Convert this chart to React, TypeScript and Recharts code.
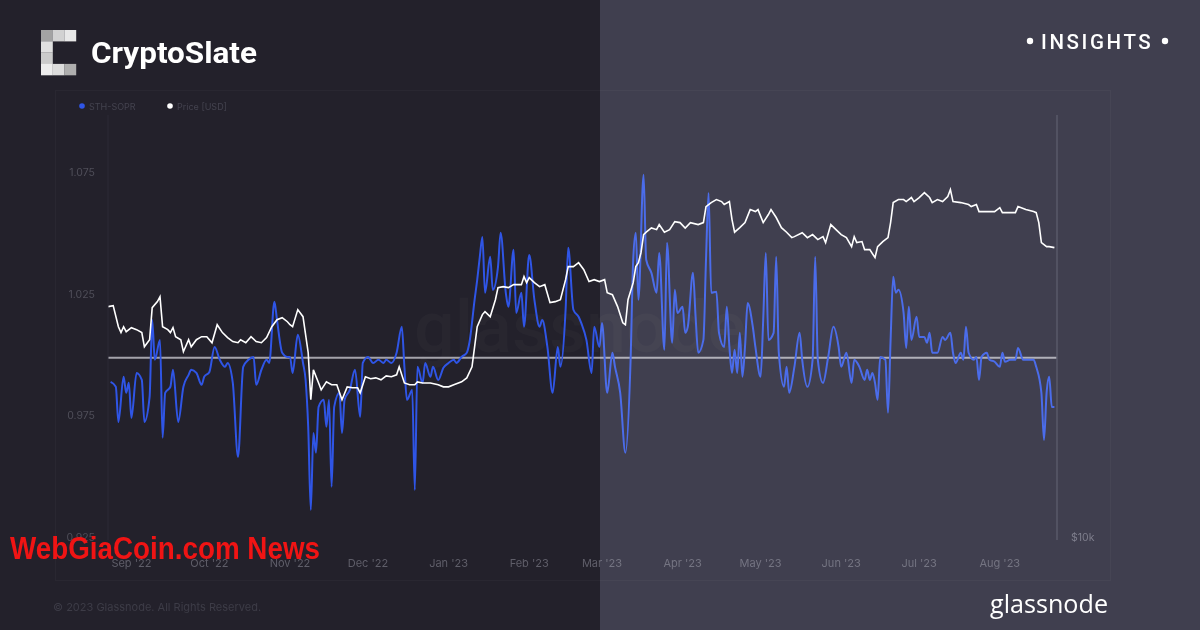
import React from 'react';
import { LineChart, Line, XAxis, YAxis, ReferenceLine } from 'recharts';

// x axis: days since 1 Sep 2022
const monthTicks = [0, 30, 61, 91, 122, 153, 181, 212, 242, 273, 303, 334];
const monthLabels = ["Sep '22", "Oct '22", "Nov '22", "Dec '22", "Jan '23", "Feb '23", "Mar '23", "Apr '23", "May '23", "Jun '23", "Jul '23", "Aug '23"];
const soprTicks = [0.925, 0.975, 1.025, 1.075];
const priceTicks = [10000];

const soprDays = [-8, -6, -5, -3, -2, -1, 0, 2, 4, 5, 7, 8, 9, 11, 12, 13, 15, 16, 18, 20, 22, 23, 25, 27, 28, 30, 32, 34, 36, 37, 39, 41, 43, 45, 47, 48, 50, 52, 53, 55, 56, 58, 60, 61, 62, 64, 66, 67, 68, 69, 70, 71, 72, 74, 75, 76, 77, 78, 80, 81, 82, 84, 86, 88, 89, 91, 93, 95, 97, 98, 100, 102, 104, 105, 106, 108, 109, 110, 112, 113, 115, 116, 118, 120, 122, 124, 125, 127, 129, 130, 132, 133, 134, 135, 136, 138, 139, 141, 142, 144, 145, 147, 148, 150, 151, 153, 155, 157, 158, 160, 162, 164, 165, 167, 168, 170, 172, 173, 175, 177, 178, 180, 181, 183, 185, 186, 188, 190, 192, 193, 194, 195, 197, 198, 200, 202, 203, 205, 206, 208, 209, 210, 212, 213, 214, 216, 217, 218, 220, 221, 222, 223, 225, 226, 228, 229, 230, 231, 232, 233, 234, 235, 236, 237, 239, 240, 242, 243, 244, 245, 247, 248, 249, 251, 252, 253, 255, 257, 258, 260, 262, 263, 264, 266, 268, 270, 272, 273, 275, 277, 278, 280, 282, 283, 284, 285, 286, 287, 288, 290, 291, 292, 293, 294, 295, 297, 298, 299, 300, 302, 303, 305, 306, 307, 308, 310, 312, 313, 315, 316, 317, 319, 320, 321, 322, 324, 325, 326, 327, 329, 330, 332, 334, 335, 336, 338, 340, 341, 343, 345, 347, 348, 350, 351, 352, 353, 354, 355];
const soprValues = [0.9901, 0.9881, 0.9736, 0.9922, 0.9856, 0.9897, 0.9753, 0.9938, 0.9909, 0.9736, 0.9839, 1.0156, 0.9992, 1.0074, 0.9671, 0.9856, 0.9881, 0.9951, 0.9736, 0.9881, 0.9930, 0.9951, 0.9938, 0.9889, 0.9922, 0.9942, 1.0045, 0.9992, 0.9963, 0.9979, 0.9897, 0.9592, 0.9963, 0.9992, 1.0004, 0.9889, 0.9951, 0.9992, 0.9979, 1.0231, 1.0156, 1.0021, 1.0004, 1.0004, 0.9938, 1.0095, 0.9979, 0.9909, 0.9716, 0.9374, 0.9691, 0.9609, 0.9798, 0.9827, 0.9716, 0.9827, 0.9469, 0.9798, 0.9856, 0.9691, 0.9827, 0.9868, 0.9951, 0.9757, 0.9979, 1.0004, 0.9979, 0.9992, 0.9979, 0.9992, 0.9979, 1.0021, 1.0128, 0.9963, 0.9827, 0.9868, 0.9456, 0.9963, 0.9897, 0.9979, 0.9922, 0.9963, 0.9909, 0.9959, 0.9979, 0.9992, 0.9979, 1.0004, 1.0021, 1.0062, 1.0239, 1.0321, 1.0416, 1.0498, 1.0268, 1.0416, 1.0280, 1.0375, 1.0515, 1.0268, 1.0210, 1.0445, 1.0185, 1.0268, 1.0128, 1.0424, 1.0239, 1.0128, 1.0156, 1.0045, 0.9856, 1.0045, 0.9963, 1.0198, 1.0453, 1.0198, 1.0169, 1.0144, 1.0074, 0.9938, 1.0128, 1.0045, 1.0144, 0.9856, 1.0021, 0.9963, 0.9856, 0.9609, 0.9992, 1.0404, 1.0515, 1.0239, 1.0754, 1.0404, 1.0350, 1.0268, 1.0432, 1.0033, 1.0474, 1.0062, 1.0280, 1.0185, 1.0210, 1.0103, 1.0128, 1.0350, 1.0169, 1.0021, 1.0074, 1.0404, 1.0679, 1.0268, 1.0272, 1.0103, 1.0045, 1.0210, 1.0045, 0.9938, 1.0033, 0.9938, 1.0103, 0.9922, 1.0045, 1.0226, 1.0128, 1.0045, 0.9922, 1.0156, 1.0432, 1.0074, 1.0103, 1.0416, 1.0021, 0.9881, 0.9963, 0.9856, 0.9963, 1.0103, 0.9992, 0.9881, 0.9992, 1.0416, 0.9992, 0.9897, 1.0004, 1.0128, 1.0045, 0.9963, 1.0021, 0.9897, 0.9992, 0.9963, 0.9909, 0.9951, 0.9909, 0.9938, 0.9897, 0.9827, 1.0004, 0.9992, 0.9774, 1.0074, 1.0334, 1.0268, 1.0280, 1.0185, 1.0041, 1.0210, 1.0074, 1.0169, 1.0086, 1.0086, 1.0062, 1.0103, 1.0021, 1.0021, 1.0086, 1.0074, 1.0103, 1.0021, 0.9979, 1.0021, 0.9992, 1.0128, 1.0021, 0.9992, 1.0004, 0.9909, 1.0004, 1.0021, 0.9992, 0.9984, 0.9963, 1.0021, 0.9984, 0.9992, 0.9992, 1.0041, 0.9992, 0.9992, 0.9992, 0.9963, 0.9856, 0.9662, 0.9856, 0.9922, 0.9798, 0.9798];

const priceDays = [-9, -7, -5, -4, -3, -2, 0, 2, 4, 5, 7, 8, 10, 11, 12, 14, 15, 16, 17, 19, 20, 22, 23, 25, 27, 29, 31, 33, 35, 37, 39, 41, 42, 44, 46, 48, 50, 52, 54, 56, 58, 60, 61, 62, 64, 66, 68, 69, 70, 72, 73, 75, 77, 79, 81, 83, 85, 87, 88, 90, 92, 94, 96, 98, 100, 102, 103, 105, 107, 109, 110, 112, 115, 118, 120, 122, 124, 127, 129, 131, 132, 133, 135, 136, 138, 140, 141, 143, 145, 147, 150, 151, 152, 153, 155, 157, 159, 161, 163, 165, 167, 168, 170, 172, 174, 176, 178, 180, 182, 183, 185, 187, 189, 190, 191, 193, 194, 195, 196, 197, 198, 200, 202, 203, 205, 207, 209, 211, 213, 215, 218, 220, 221, 223, 225, 227, 228, 230, 231, 232, 234, 236, 238, 240, 241, 243, 245, 246, 248, 250, 252, 254, 255, 258, 260, 262, 264, 266, 267, 269, 271, 273, 275, 277, 278, 279, 281, 282, 284, 286, 287, 289, 291, 292, 293, 295, 297, 298, 300, 301, 303, 305, 307, 308, 310, 312, 314, 315, 316, 319, 322, 323, 325, 326, 328, 332, 334, 335, 338, 340, 341, 344, 347, 348, 349, 350, 352, 353, 355];
const priceValues = [21410, 21480, 20050, 19670, 20050, 19730, 19990, 19860, 19670, 18780, 19220, 21340, 21760, 22110, 20050, 19860, 19670, 19990, 19410, 19220, 18480, 19220, 18780, 19220, 19410, 19410, 19030, 20180, 19670, 19350, 19100, 19030, 19220, 19030, 19410, 19100, 19030, 19350, 20050, 20510, 20650, 20380, 20180, 20050, 21200, 20720, 18420, 15800, 17420, 16690, 16320, 16750, 16590, 16590, 15800, 16480, 16430, 16430, 16160, 17030, 16920, 16970, 16860, 17080, 17030, 17140, 17590, 16690, 16590, 16590, 16750, 16690, 16690, 16590, 16480, 16480, 16590, 16750, 16970, 17590, 18780, 20050, 20860, 21060, 20720, 21900, 22780, 22850, 22780, 23000, 23000, 23610, 23150, 23530, 23150, 22850, 23000, 21690, 21760, 21900, 23380, 24390, 24390, 24710, 24150, 23230, 23380, 23230, 23380, 22410, 22260, 21410, 20310, 20180, 21900, 23150, 24390, 24710, 25530, 27080, 27290, 27670, 27520, 27980, 27290, 27520, 28250, 28160, 27670, 28160, 27980, 28160, 29670, 30060, 30360, 30160, 29870, 30160, 28440, 27290, 27700, 28160, 29380, 29190, 29380, 28160, 28910, 29380, 28630, 27700, 27290, 26810, 26900, 27250, 26810, 27080, 26640, 26900, 26380, 27980, 27520, 27080, 26810, 26040, 26900, 26380, 26470, 25780, 25780, 25120, 26040, 26470, 26810, 28160, 30060, 30360, 30360, 30160, 30560, 30160, 30560, 31060, 30560, 30060, 30360, 30160, 30660, 31370, 30160, 30060, 29870, 29670, 29870, 29190, 29190, 29190, 29570, 29090, 29090, 29090, 29670, 29380, 29190, 29090, 28160, 26380, 26040, 26040, 25950];

const soprData = soprDays.map((d, i) => ({ day: d, sopr: soprValues[i] }));
const priceData = priceDays.map((d, i) => ({ day: d, price: priceValues[i] }));

const logoBlocks = [
  { c: 0, r: 0, fill: '#a3a3a3' }, { c: 1, r: 0, fill: '#d2d2d2' }, { c: 2, r: 0, fill: '#e8e8e8' },
  { c: 0, r: 1, fill: '#e0e0e0' },
  { c: 0, r: 2, fill: '#cbcbcb' },
  { c: 0, r: 3, fill: '#ededed' }, { c: 1, r: 3, fill: '#dcdcdc' }, { c: 2, r: 3, fill: '#aeaeae' },
];

const tickFont = 'Inter, "Open Sans", sans-serif';

export default function App() {
  return (
    <div style={{ position: 'absolute', left: 0, top: 0, width: 1200, height: 630, background: '#23212b', overflow: 'hidden', fontFamily: tickFont }}>
      <div style={{ position: 'absolute', left: 55, top: 90, width: 1054, height: 489, border: '1px solid rgba(255,255,255,0.03)' }} />
      <svg width={1200} height={630} style={{ position: 'absolute', left: 0, top: 0 }}>
        <text x={580} y={352} textAnchor="middle" fontSize={72} fontFamily="Roboto, sans-serif" fontWeight={500} fill="rgba(255,255,255,0.025)">glassnode</text>
      </svg>
      <div style={{ position: 'absolute', left: 0, top: 0 }}>
        <LineChart width={1200} height={630} margin={{ top: 115, right: 0, bottom: 0, left: 0 }}>
          <XAxis
            type="number"
            dataKey="day"
            domain={[-9, 356]}
            allowDataOverflow
            ticks={monthTicks}
            interval={0}
            tickFormatter={(v: number) => monthLabels[monthTicks.indexOf(v)] ?? ''}
            height={90}
            tickSize={0}
            tickMargin={19}
            axisLine={false}
            tick={{ fill: '#5f5e69', fontSize: 11, fontFamily: tickFont }}
          />
          <YAxis
            yAxisId="sopr"
            domain={[0.925, 1.1]}
            allowDataOverflow
            ticks={soprTicks}
            interval={0}
            tickFormatter={(v: number) => v.toFixed(3)}
            width={108}
            tickSize={0}
            tickMargin={13}
            axisLine={{ stroke: '#2c2b36' }}
            tick={{ fill: '#4f4e59', fontSize: 10.5, fontFamily: tickFont, dy: -3 }}
          />
          <YAxis
            yAxisId="price"
            orientation="right"
            scale="log"
            domain={[10000, 40000]}
            allowDataOverflow
            ticks={priceTicks}
            interval={0}
            tickFormatter={() => '$10k'}
            width={143}
            tickSize={0}
            tickMargin={14}
            axisLine={{ stroke: '#3f3e4b', strokeWidth: 1.5 }}
            tick={{ fill: '#6a6975', fontSize: 10.5, fontFamily: tickFont, dy: -3 }}
          />
          <ReferenceLine yAxisId="sopr" y={1} stroke="#a4a3ab" strokeWidth={2} />
          <Line
            yAxisId="sopr"
            data={soprData}
            dataKey="sopr"
            type="monotone"
            stroke="#2f55e6"
            strokeWidth={2}
            dot={false}
            isAnimationActive={false}
          />
          <Line
            yAxisId="price"
            data={priceData}
            dataKey="price"
            type="linear"
            stroke="#ffffff"
            strokeWidth={1.6}
            dot={false}
            isAnimationActive={false}
          />
        </LineChart>
      </div>
      <svg width={1200} height={630} style={{ position: 'absolute', left: 0, top: 0 }}>
        {logoBlocks.map((b, i) => (
          <rect key={i} x={41 + b.c * 11.7} y={30 + b.r * 11.3} width={11.8} height={11.4} fill={b.fill} />
        ))}
        <text x={91} y={63} fontFamily="Roboto, sans-serif" fontWeight={700} fontSize={29} fill="#ffffff" textLength={166} lengthAdjust="spacingAndGlyphs">CryptoSlate</text>
        <circle cx={1030} cy={41} r={3.2} fill="#ffffff" />
        <text x={1041} y={48.5} fontFamily="Roboto, sans-serif" fontWeight={500} fontSize={20.5} letterSpacing={2.6} fill="#ffffff">INSIGHTS</text>
        <circle cx={1165} cy={41} r={3.2} fill="#ffffff" />
        <circle cx={82} cy={106} r={2.8} fill="#2f55e6" />
        <text x={89} y={109.5} fontSize={9} fontFamily={tickFont} fill="#44434f">STH-SOPR</text>
        <circle cx={170} cy={106} r={2.8} fill="#ffffff" />
        <text x={177} y={109.5} fontSize={9} fontFamily={tickFont} fill="#44434f">Price [USD]</text>
        <text x={53} y={611} fontSize={11} fontFamily={tickFont} fill="#3d3c47">© 2023 Glassnode. All Rights Reserved.</text>
        <text x={990} y={613} fontSize={25} fontFamily='"Open Sans", sans-serif' fontWeight={500} fill="#ffffff" textLength={118} lengthAdjust="spacingAndGlyphs">glassnode</text>
      </svg>
      <div style={{ position: 'absolute', left: 600, top: 0, width: 600, height: 630, background: 'rgb(34,35,43)', mixBlendMode: 'screen', pointerEvents: 'none' }} />
      <svg width={1200} height={630} style={{ position: 'absolute', left: 0, top: 0 }}>
        <text x={10} y={559} fontFamily='"Liberation Sans Narrow", "Liberation Sans", sans-serif' fontWeight={700} fontSize={31} fill="#f01414" textLength={310} lengthAdjust="spacingAndGlyphs">WebGiaCoin.com News</text>
      </svg>
    </div>
  );
}
